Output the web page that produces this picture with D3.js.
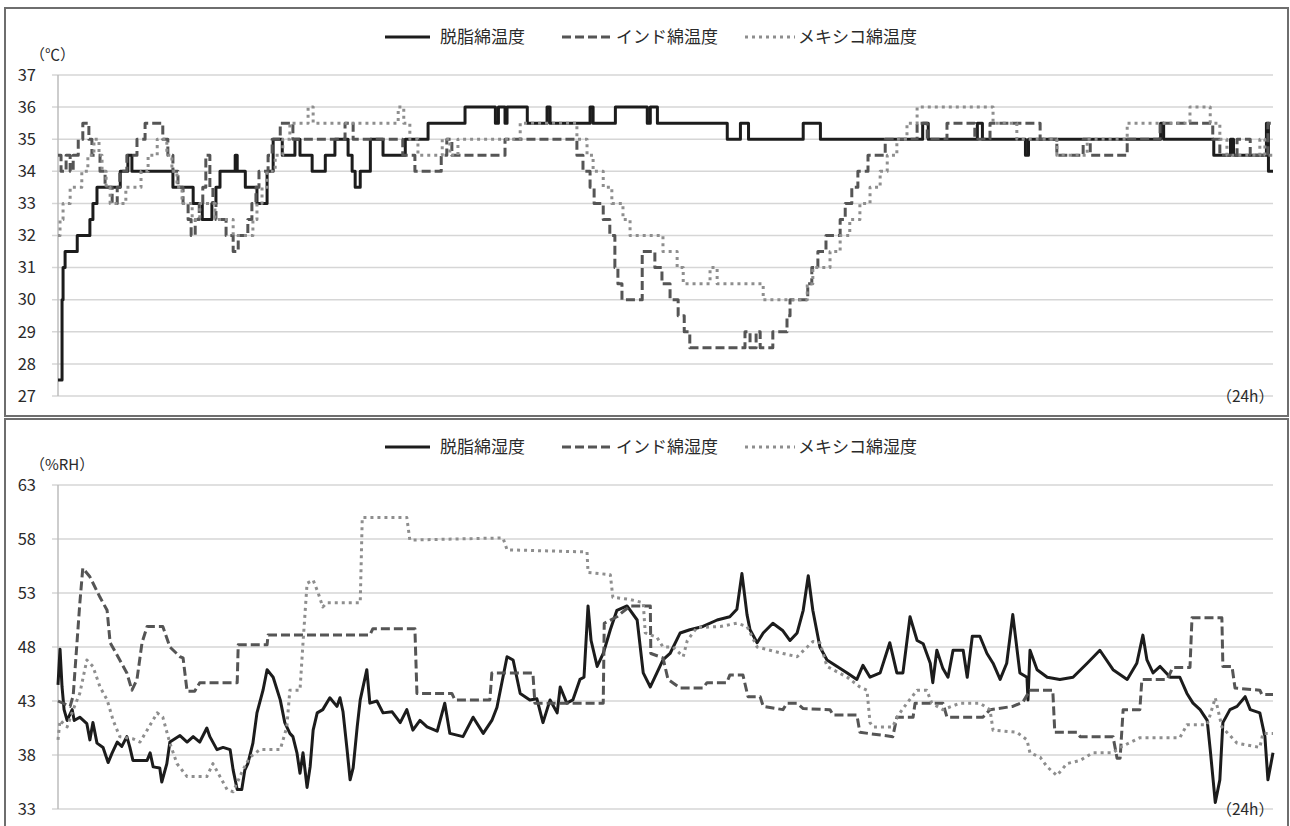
<!DOCTYPE html>
<html lang="ja">
<head>
<meta charset="UTF-8">
<title>綿の温度・湿度 (24h)</title>
<script src="https://d3js.org/d3.v7.min.js"></script>
<style>
  body { margin: 0; background: #fff; }
  svg text { font-family: "Noto Sans CJK JP", "Noto Sans", sans-serif; fill: #2a2a2a; }
  .grid line { stroke: #d6d6d6; stroke-width: 1.5; }
</style>
</head>
<body>
<svg id="chart" width="1290" height="826"></svg>
<script>
// series names (legend)
var tempNames = ["脱脂綿温度", "インド綿温度", "メキシコ綿温度"];
var humNames = ["脱脂綿湿度", "インド綿湿度", "メキシコ綿湿度"];

// y tick labels
var tempTicks = [27, 28, 29, 30, 31, 32, 33, 34, 35, 36, 37];
var humTicks = [33, 38, 43, 48, 53, 58, 63];

// temperature readings [hour, °C], stepped in 0.5 steps
var tempDefatted = [[0,27.5],[0.08,30],[0.10,31],[0.14,31.5],[0.38,32],[0.63,32.5],[0.69,33],[0.77,33.5],[1.23,34],[1.38,34.5],[1.46,34],[2.27,33.5],[2.67,33],[2.85,32.5],[3.04,33],[3.12,33.5],[3.20,34],[3.50,34.5],[3.54,34],[3.70,33.5],[3.93,33],[4.13,34],[4.25,35],[4.43,34.5],[4.68,35],[4.78,34.5],[5.02,34],[5.28,34.5],[5.47,35],[5.73,34.5],[5.81,34],[5.87,33.5],[5.97,34],[6.17,35],[6.42,34.5],[6.86,35],[7.31,35.5],[8.04,36],[8.64,35.5],[8.70,36],[8.83,35.5],[8.87,36],[9.27,35.5],[9.66,36],[9.72,35.5],[10.51,36],[10.57,35.5],[11.01,36],[11.64,35.5],[11.70,36],[11.84,35.5],[13.22,35],[13.48,35.5],[13.64,35],[14.72,35.5],[15.06,35],[17.08,35.5],[17.19,35],[18.16,35.5],[18.26,35],[19.11,34.5],[19.17,35],[21.78,35.5],[21.84,35],[22.83,34.5],[23.16,35],[23.22,34.5],[23.87,35.5],[23.91,34],[24,34]];
var tempIndia = [[0,34.5],[0.06,34],[0.16,34.5],[0.24,34],[0.30,34.5],[0.40,35],[0.49,35.5],[0.61,35],[0.67,34.5],[0.83,34],[0.93,33.5],[1.07,33],[1.17,33.5],[1.22,34],[1.36,34.5],[1.56,35],[1.72,35.5],[2.07,35],[2.17,34.5],[2.27,34],[2.37,33.5],[2.47,33],[2.57,32.5],[2.63,32],[2.71,32.5],[2.79,33],[2.86,33.5],[2.92,34.5],[3.00,33.5],[3.06,33],[3.12,32.5],[3.32,32],[3.46,31.5],[3.56,32],[3.75,32.5],[3.83,33],[3.91,33.5],[3.97,34],[4.15,34.5],[4.23,35],[4.39,35.5],[4.64,35],[5.67,35.5],[5.83,35],[6.81,34.5],[7.05,34],[7.57,34.5],[7.68,35],[7.78,34.5],[8.83,35],[10.25,34.5],[10.37,34],[10.51,33.5],[10.59,33],[10.77,32.5],[10.90,32],[11.00,31],[11.06,30.5],[11.14,30],[11.54,31.5],[11.79,31],[11.93,30.5],[12.09,30],[12.25,29.5],[12.37,29],[12.48,28.5],[13.57,29],[13.67,28.5],[13.79,29],[13.87,28.5],[14.12,29],[14.40,29.5],[14.46,30],[14.81,30.5],[14.89,31],[15.01,31.5],[15.17,32],[15.45,32.5],[15.55,33],[15.68,33.5],[15.80,34],[16.00,34.5],[16.34,35],[16.97,35.5],[17.17,35],[17.56,35.5],[18.11,35],[18.41,35.5],[19.40,35],[19.73,34.5],[20.25,35],[20.39,34.5],[21.12,35],[21.77,35.5],[22.81,35],[22.95,34.5],[23.29,35],[23.55,34.5],[23.90,35.5],[24,35.5]];
var tempMexico = [[0,32],[0.04,32.5],[0.10,33],[0.24,33.5],[0.47,34],[0.59,34.5],[0.71,35],[0.81,34.5],[0.87,34],[0.95,33.5],[1.03,33],[1.34,33.5],[1.64,34],[1.78,34.5],[1.96,35],[2.15,34.5],[2.25,34],[2.35,33.5],[2.45,33],[2.65,32.5],[2.80,33],[3.10,32.5],[3.46,32],[3.85,32.5],[3.93,33],[4.03,33.5],[4.13,34],[4.29,34.5],[4.44,35],[4.58,35.5],[4.94,36],[5.04,35.5],[6.72,36],[6.83,35.5],[6.95,35],[7.11,34.5],[7.59,35],[7.74,34.5],[7.90,35],[9.13,35.5],[10.25,35],[10.45,34.5],[10.57,34],[10.77,33.5],[10.94,33],[11.16,32.5],[11.30,32],[11.95,31.5],[12.23,31],[12.35,30.5],[12.88,31],[13.02,30.5],[13.93,30],[14.80,30.5],[14.91,31],[15.25,31.5],[15.45,32],[15.64,32.5],[15.84,33],[16.04,33.5],[16.24,34],[16.38,34.5],[16.57,35],[16.77,35.5],[16.97,36],[18.47,35.5],[18.94,35],[19.73,34.5],[20.33,35],[21.12,35.5],[22.36,36],[22.76,35.5],[22.95,35],[23.09,34.5],[23.74,35],[23.84,34.5],[24,34.5]];

// humidity readings [hour, %RH]
var humDefatted = [[0,44.5],[0.04,47.8],[0.08,44.3],[0.12,42.2],[0.18,41.2],[0.28,42.2],[0.32,41.2],[0.43,41.5],[0.57,40.9],[0.63,39.4],[0.69,41.0],[0.77,39.1],[0.89,38.7],[0.99,37.3],[1.07,38.2],[1.17,39.2],[1.26,38.8],[1.36,39.7],[1.42,38.7],[1.48,37.5],[1.76,37.5],[1.82,38.2],[1.88,36.9],[2.01,36.8],[2.05,35.5],[2.15,37.2],[2.21,39.2],[2.41,39.8],[2.55,39.2],[2.67,39.7],[2.80,39.2],[2.94,40.5],[3.00,39.7],[3.14,38.5],[3.26,38.7],[3.40,38.5],[3.46,36.6],[3.54,34.8],[3.63,34.8],[3.69,36.6],[3.75,37.2],[3.85,39.1],[3.93,41.9],[4.05,44.0],[4.13,45.9],[4.25,45.2],[4.39,43.1],[4.48,41.0],[4.58,40.0],[4.64,39.7],[4.72,38.2],[4.78,36.3],[4.84,38.2],[4.92,35.0],[4.98,36.9],[5.04,40.3],[5.12,41.9],[5.23,42.2],[5.37,43.3],[5.51,42.5],[5.57,43.3],[5.63,42.0],[5.71,38.5],[5.77,35.7],[5.83,36.8],[5.91,40.6],[5.97,43.1],[6.10,45.9],[6.16,42.8],[6.30,43.0],[6.42,41.9],[6.60,42.0],[6.76,41.0],[6.89,42.2],[7.01,40.3],[7.15,41.2],[7.29,40.6],[7.49,40.2],[7.64,42.8],[7.74,40.0],[8.00,39.7],[8.20,41.5],[8.40,40.0],[8.57,41.2],[8.67,42.4],[8.87,47.1],[8.99,46.8],[9.13,43.7],[9.32,43.1],[9.46,43.2],[9.58,41.0],[9.72,43.1],[9.86,41.9],[9.92,44.3],[10.05,42.8],[10.17,43.1],[10.31,45.0],[10.39,45.2],[10.47,51.8],[10.53,48.6],[10.65,46.2],[10.77,47.4],[10.91,49.6],[11.04,51.4],[11.24,51.8],[11.44,50.5],[11.56,45.6],[11.70,44.3],[11.83,45.6],[11.95,46.8],[12.09,47.4],[12.29,49.3],[12.48,49.6],[12.74,49.9],[13.02,50.5],[13.27,50.8],[13.41,51.5],[13.51,54.8],[13.61,51.0],[13.67,49.6],[13.81,48.4],[13.93,49.3],[14.12,50.2],[14.32,49.5],[14.46,48.6],[14.60,49.3],[14.72,51.4],[14.82,54.6],[14.91,51.4],[15.05,48.0],[15.19,46.8],[15.39,46.2],[15.59,45.6],[15.78,45.0],[15.90,46.3],[16.04,45.2],[16.24,45.6],[16.43,48.4],[16.57,45.6],[16.69,45.6],[16.83,50.8],[16.97,48.6],[17.09,48.3],[17.23,46.5],[17.28,44.7],[17.36,47.7],[17.48,46.0],[17.58,45.2],[17.68,47.7],[17.88,47.7],[17.96,45.2],[18.06,49.0],[18.21,49.0],[18.35,47.4],[18.47,46.5],[18.61,45.0],[18.74,46.5],[18.86,51.0],[19.00,45.6],[19.14,45.2],[19.16,43.1],[19.20,47.7],[19.34,45.9],[19.54,45.2],[19.79,45.0],[20.05,45.2],[20.33,46.5],[20.58,47.7],[20.84,45.9],[21.12,45.0],[21.31,46.5],[21.43,49.1],[21.51,46.8],[21.63,45.6],[21.77,46.2],[21.97,45.2],[22.16,45.2],[22.30,43.7],[22.42,42.8],[22.56,42.2],[22.70,41.2],[22.76,38.5],[22.86,33.6],[22.95,35.7],[23.01,41.0],[23.15,42.2],[23.29,42.5],[23.45,43.4],[23.55,42.2],[23.74,41.9],[23.84,39.7],[23.90,35.7],[24,38.2]];
var humIndia = [[0,43.0],[0.24,42.5],[0.30,43.5],[0.43,52.0],[0.49,55.3],[0.63,54.5],[0.83,52.6],[0.97,51.4],[1.03,48.4],[1.22,46.8],[1.36,45.6],[1.46,44.0],[1.56,45.0],[1.66,48.4],[1.76,49.9],[2.07,49.9],[2.21,48.0],[2.41,47.1],[2.47,47.0],[2.55,43.9],[2.70,43.9],[2.80,44.7],[3.54,44.7],[3.56,48.2],[4.13,48.2],[4.15,49.1],[6.16,49.1],[6.22,49.7],[7.05,49.7],[7.09,43.7],[7.78,43.7],[7.84,43.1],[8.53,43.1],[8.57,45.6],[9.38,45.6],[9.42,42.8],[10.77,42.8],[10.79,50.2],[11.04,50.8],[11.30,51.8],[11.70,51.8],[11.71,47.4],[11.95,47.0],[12.05,45.0],[12.29,44.2],[12.74,44.2],[12.82,44.7],[13.21,44.7],[13.27,45.4],[13.53,45.4],[13.63,43.4],[13.87,43.4],[13.93,42.5],[14.32,42.2],[14.40,42.8],[14.60,42.8],[14.72,42.3],[15.25,42.2],[15.31,41.7],[15.78,41.7],[15.84,40.1],[16.49,39.7],[16.57,41.5],[16.89,41.5],[16.93,42.8],[17.48,42.8],[17.56,41.5],[18.27,41.5],[18.41,42.2],[18.86,42.5],[19.06,42.9],[19.20,44.0],[19.65,44.0],[19.69,40.1],[20.13,40.1],[20.19,39.7],[20.84,39.7],[20.92,37.7],[20.98,37.7],[21.04,42.2],[21.37,42.2],[21.41,45.0],[21.91,45.0],[22.02,46.1],[22.36,46.1],[22.40,50.7],[22.99,50.7],[23.01,46.2],[23.19,46.2],[23.25,44.2],[23.74,44.0],[23.78,43.6],[24,43.6]];
var humMexico = [[0,39.4],[0.04,41.2],[0.18,40.6],[0.30,42.2],[0.43,43.7],[0.57,46.8],[0.69,46.2],[0.83,44.3],[0.97,43.1],[1.09,41.2],[1.22,39.7],[1.48,39.5],[1.62,39.2],[1.76,40.3],[1.96,41.9],[2.07,41.5],[2.21,39.1],[2.35,37.2],[2.55,36.0],[2.94,36.0],[3.06,37.2],[3.20,36.0],[3.34,34.8],[3.46,34.6],[3.65,36.6],[3.79,37.8],[3.99,38.5],[4.39,38.5],[4.52,40.6],[4.58,44.0],[4.78,44.0],[4.84,48.4],[4.92,53.9],[5.04,54.2],[5.14,53.0],[5.23,51.7],[5.31,52.1],[5.97,52.1],[6.01,60.0],[6.89,60.0],[6.95,57.9],[8.79,58.1],[8.87,57.0],[10.45,56.8],[10.47,54.9],[10.91,54.7],[10.96,52.6],[11.30,52.4],[11.56,52.1],[11.60,49.3],[11.83,48.9],[11.95,48.0],[12.15,48.0],[12.35,47.1],[12.43,48.6],[12.62,49.8],[13.08,49.9],[13.41,50.2],[13.61,49.9],[13.81,48.0],[14.06,47.7],[14.32,47.4],[14.60,47.1],[14.80,48.0],[14.91,48.5],[15.05,48.4],[15.19,46.2],[15.59,45.2],[15.84,44.3],[15.98,44.0],[16.04,41.0],[16.10,40.6],[16.49,40.6],[16.57,41.5],[16.77,42.8],[16.97,44.0],[17.16,44.0],[17.26,42.8],[17.48,42.2],[17.82,42.8],[18.21,42.8],[18.41,42.2],[18.47,40.3],[18.94,40.1],[19.14,39.4],[19.20,38.2],[19.40,37.8],[19.54,36.9],[19.73,36.1],[19.93,37.2],[20.19,37.5],[20.44,38.2],[20.84,38.2],[20.98,38.7],[21.37,39.6],[22.16,39.6],[22.30,40.8],[22.70,40.8],[22.86,43.3],[22.99,40.6],[23.29,39.1],[23.74,38.7],[23.80,40.0],[24,40.0]];

var svg = d3.select("#chart");

var x = d3.scaleLinear().domain([0, 24]).range([58, 1273]);

// line looks for the three cottons
var styles = [
  { stroke: "#1c1c1c", width: 3, dash: null },
  { stroke: "#555555", width: 3, dash: "9,4" },
  { stroke: "#8e8e8e", width: 3, dash: "3,4" }
];

// panel frames
svg.append("rect").attr("x", 5).attr("y", 8).attr("width", 1283).attr("height", 408)
  .attr("fill", "none").attr("stroke", "#6e6e6e").attr("stroke-width", 2);
svg.append("rect").attr("x", 5).attr("y", 419).attr("width", 1283).attr("height", 420)
  .attr("fill", "none").attr("stroke", "#6e6e6e").attr("stroke-width", 2);

function drawPanel(p) {
  var y = d3.scaleLinear().domain(p.domain).range(p.range);
  var g = svg.append("g");

  var grid = g.append("g").attr("class", "grid");
  grid.selectAll("line").data(p.ticks).enter().append("line")
    .attr("x1", 52).attr("x2", x(24))
    .attr("y1", function(d) { return y(d); })
    .attr("y2", function(d) { return y(d); });

  g.append("line")
    .attr("x1", x(0)).attr("x2", x(0))
    .attr("y1", y(p.domain[1])).attr("y2", y(p.domain[0]))
    .attr("stroke", "#bdbdbd").attr("stroke-width", 1.5);

  g.selectAll(".tick").data(p.ticks).enter().append("text")
    .attr("x", 36).attr("y", function(d) { return y(d); })
    .attr("dy", "0.35em").attr("text-anchor", "end")
    .style("font-size", "16.5px")
    .text(function(d) { return d; });

  g.append("text").attr("x", 30).attr("y", p.unitY).attr("dy", "0.35em")
    .style("font-size", "15px").text(p.unit);

  g.append("text").attr("x", 1274).attr("y", p.range[0] + 1).attr("dy", "0.35em")
    .attr("text-anchor", "end").style("font-size", "15.5px").text("（24h）");

  var line = d3.line()
    .x(function(d) { return x(d[0]); })
    .y(function(d) { return y(d[1]); })
    .curve(p.curve);

  p.series.forEach(function(s, i) {
    g.append("path").datum(s)
      .attr("d", line)
      .attr("fill", "none")
      .attr("stroke", styles[i].stroke)
      .attr("stroke-width", styles[i].width)
      .attr("stroke-dasharray", styles[i].dash)
      .attr("stroke-linejoin", "round");
  });

  // legend
  var lx = [[385, 430, 440], [562, 612, 616], [745, 795, 798]];
  p.names.forEach(function(name, i) {
    g.append("line")
      .attr("x1", lx[i][0]).attr("x2", lx[i][1])
      .attr("y1", p.legendY).attr("y2", p.legendY)
      .attr("stroke", styles[i].stroke)
      .attr("stroke-width", styles[i].width)
      .attr("stroke-dasharray", styles[i].dash);
    g.append("text").attr("x", lx[i][2]).attr("y", p.legendY).attr("dy", "0.35em")
      .style("font-size", "17px").text(name);
  });
}

drawPanel({
  domain: [27, 37], range: [396, 75], ticks: tempTicks,
  unit: "（℃）", unitY: 55, legendY: 37, names: tempNames,
  series: [tempDefatted, tempIndia, tempMexico], curve: d3.curveStepAfter
});

drawPanel({
  domain: [33, 63], range: [809, 485], ticks: humTicks,
  unit: "（%RH）", unitY: 465, legendY: 447, names: humNames,
  series: [humDefatted, humIndia, humMexico], curve: d3.curveLinear
});
</script>
</body>
</html>
